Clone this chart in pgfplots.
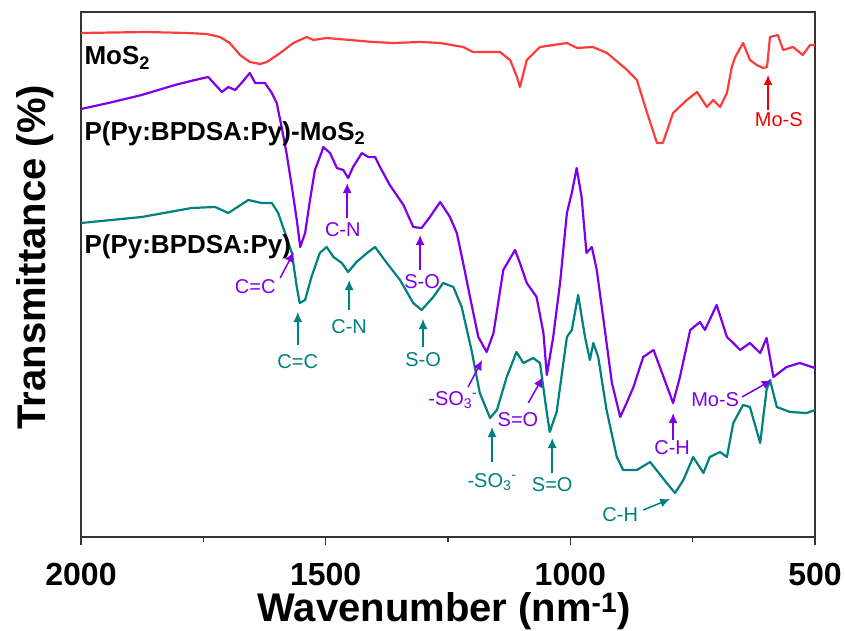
\documentclass[border=0pt]{standalone}
\usepackage{fontspec}
\setmainfont{Liberation Sans}
\usepackage{pgfplots}
\pgfplotsset{compat=1.18}
\usetikzlibrary{arrows.meta}
\definecolor{cred}{RGB}{255,60,60}
\definecolor{cpur}{RGB}{125,0,235}
\definecolor{ctea}{RGB}{0,128,128}
\definecolor{tred}{RGB}{240,0,0}
\begin{document}
\begin{tikzpicture}
\path[use as bounding box] (-81pt,-93pt) rectangle (764pt,537pt);
\begin{axis}[
  at={(0,0)}, anchor=south west,
  scale only axis, width=734pt, height=525pt,
  x dir=reverse, xmin=500, xmax=2000, ymin=93, ymax=618,
  ytick=\empty,
  xtick={500,1000,1500,2000}, xticklabels={500,1000,1500,2000},
  minor xtick={750,1250,1750},
  xtick pos=bottom, tick align=outside,
  major tick length=8pt, minor tick length=5pt,
  axis line style={line width=1.3pt, black!80},
  every tick/.style={line width=1.3pt, black!80},
  xticklabel style={font=\fontsize{32}{32}\selectfont\bfseries, anchor=base, yshift=-40pt},
  clip=false,
  every axis plot/.append style={line width=2.2pt, line join=round},
]
\addplot[cred, mark=none] coordinates {
(2000,597) (1866,598) (1784,597) (1743,596) (1716,593) (1696,587) (1675,575) (1655,568)
(1634,566) (1620,568) (1593,577) (1566,587) (1539,593) (1525,590) (1498,592) (1450,590)
(1403,588) (1362,587) (1307,588) (1266,587) (1219,583) (1199,578) (1144,578) (1123,570)
(1109,553) (1103,543) (1089,570) (1062,583) (1007,587) (986,582) (954,583) (925,577)
(884,560) (864,550) (843,517) (823,487) (811,487) (790,517) (762,530) (741,538)
(721,523) (708,530) (694,523) (680,537) (670,563) (663,573) (647,587) (633,570)
(619,565) (606,562) (598,563) (592,593) (576,595) (565,580) (545,583) (525,575)
(510,585) (500,585)};
\addplot[cpur, mark=none] coordinates {
(2000,521) (1944,527) (1876,535) (1808,545) (1767,550) (1740,553) (1712,538) (1699,543)
(1685,540) (1672,547) (1655,557) (1644,547) (1624,547) (1610,537) (1600,527) (1590,503)
(1580,477) (1569,443) (1559,410) (1552,383) (1542,397) (1532,430) (1522,460) (1508,478)
(1505,483) (1491,477) (1477,462) (1464,460) (1454,452) (1444,463) (1426,477) (1413,473)
(1399,473) (1389,463) (1369,445) (1341,425) (1321,403) (1304,402) (1287,413) (1266,428)
(1246,413) (1232,397) (1219,367) (1205,333) (1188,293) (1171,278) (1157,297) (1137,360)
(1113,380) (1103,367) (1089,347) (1069,333) (1055,297) (1048,255) (1035,293) (1021,347)
(1007,417) (997,437) (987,462) (977,433) (967,377) (956,383) (946,360) (933,313)
(915,247) (898,213) (885,227) (871,243) (851,273) (830,280) (817,263) (790,227)
(776,253) (755,300) (735,308) (725,300) (701,325) (680,293) (667,287) (653,280)
(633,287) (612,277) (599,292) (585,253) (558,263) (531,267) (500,262)};
\addplot[ctea, mark=none] coordinates {
(2000,407) (1876,413) (1774,422) (1726,423) (1699,417) (1658,430) (1631,427) (1610,427)
(1597,417) (1583,397) (1569,377) (1559,343) (1553,327) (1542,330) (1529,353) (1512,377)
(1498,383) (1484,373) (1467,367) (1454,358) (1437,368) (1413,378) (1399,383) (1375,367)
(1348,350) (1321,327) (1304,320) (1280,333) (1260,347) (1239,343) (1222,323) (1202,280)
(1185,237) (1164,212) (1150,220) (1130,253) (1110,278) (1096,267) (1076,272) (1062,267)
(1048,217) (1042,198) (1028,218) (1007,293) (997,300) (984,335) (970,293) (960,270)
(953,287) (943,273) (926,220) (905,173) (892,160) (864,160) (837,168) (824,160)
(803,147) (786,137) (769,150) (749,173) (728,157) (715,173) (694,178) (680,173)
(667,207) (647,225) (633,223) (612,187) (599,240) (592,250) (578,223) (551,218)
(517,217) (500,220)};

% curve labels
\node[anchor=base west, font=\fontsize{26}{26}\selectfont\bfseries] at (axis cs:2000,565) {MoS\textsubscript{2}};
\node[anchor=base west, font=\fontsize{26}{26}\selectfont\bfseries] at (axis cs:2000,490) {P(Py:BPDSA:Py)-MoS\textsubscript{2}};
\node[anchor=base west, font=\fontsize{26}{26}\selectfont\bfseries] at (axis cs:2000,377) {P(Py:BPDSA:Py)};

% annotations
\tikzset{ann/.style={font=\fontsize{20}{20}\selectfont, inner sep=0pt},
         arr/.style={line width=1.5pt, -{Latex[length=10pt,width=9pt]}}}
% red
\node[ann, text=tred] at (axis cs:574,510) {Mo-S};
\draw[arr, tred] (axis cs:596,520) -- (axis cs:596,555);
% purple
\node[ann, text=cpur] at (axis cs:1644,343) {C=C};
\draw[arr, cpur] (axis cs:1593,352) -- (axis cs:1565,378);
\node[ann, text=cpur] at (axis cs:1465,400) {C-N};
\draw[arr, cpur] (axis cs:1456,412) -- (axis cs:1456,447);
\node[ann, text=cpur] at (axis cs:1303,348) {S-O};
\draw[arr, cpur] (axis cs:1307,360) -- (axis cs:1307,395);
\node[ann, text=cpur] at (axis cs:1240,230) {-SO\textsubscript{3}\textsuperscript{-}};
\draw[arr, cpur] (axis cs:1209,243) -- (axis cs:1180,270);
\node[ann, text=cpur] at (axis cs:1107,210) {S=O};
\draw[arr, cpur] (axis cs:1086,227) -- (axis cs:1056,253);
\node[ann, text=cpur] at (axis cs:792,182) {C-H};
\draw[arr, cpur] (axis cs:790,190) -- (axis cs:790,217);
\node[ann, text=cpur] at (axis cs:704,230) {Mo-S};
\draw[arr, cpur] (axis cs:649,233) -- (axis cs:588,250);
% teal
\node[ann, text=ctea] at (axis cs:1557,268) {C=C};
\draw[arr, ctea] (axis cs:1557,285) -- (axis cs:1557,318);
\node[ann, text=ctea] at (axis cs:1452,303) {C-N};
\draw[arr, ctea] (axis cs:1452,320) -- (axis cs:1452,350);
\node[ann, text=ctea] at (axis cs:1301,270) {S-O};
\draw[arr, ctea] (axis cs:1301,283) -- (axis cs:1301,311);
\node[ann, text=ctea] at (axis cs:1160,148) {-SO\textsubscript{3}\textsuperscript{-}};
\draw[arr, ctea] (axis cs:1160,168) -- (axis cs:1160,203);
\node[ann, text=ctea] at (axis cs:1037,145) {S=O};
\draw[arr, ctea] (axis cs:1037,157) -- (axis cs:1037,192);
\node[ann, text=ctea] at (axis cs:898,115) {C-H};
\draw[arr, ctea] (axis cs:851,120) -- (axis cs:796,131);

% axis labels
\node[rotate=90, anchor=base, font=\fontsize{40}{40}\selectfont\bfseries] at (axis description cs:-0.049,0.533) {Transmittance (\%)};
\node[anchor=base, font=\fontsize{40}{40}\selectfont\bfseries] at (axis description cs:0.4946,-0.161) {Wavenumber (nm\textsuperscript{-1})};
\end{axis}
\end{tikzpicture}
\end{document}
